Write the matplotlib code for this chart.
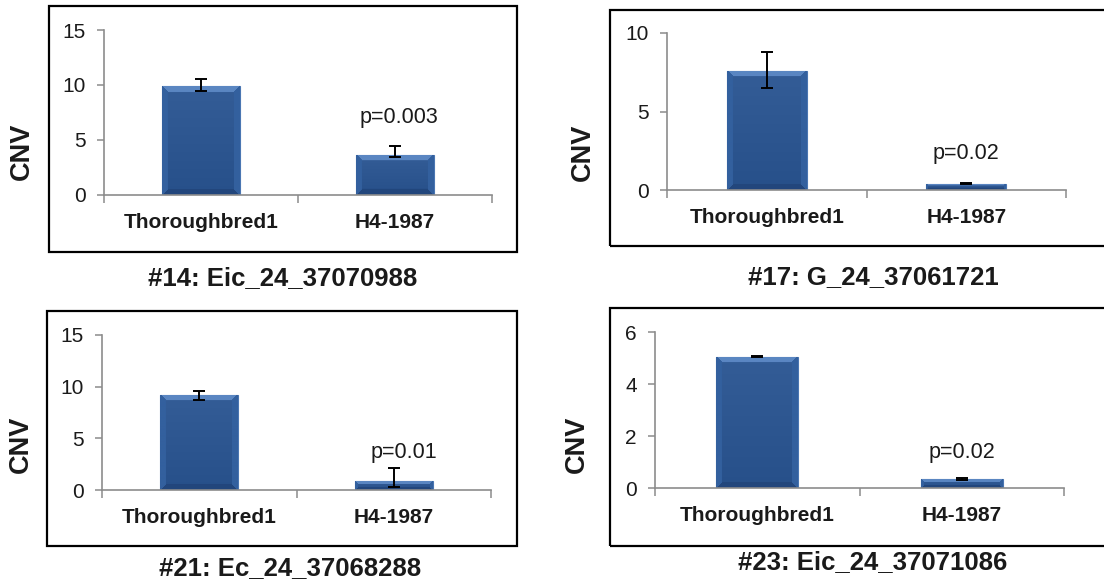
import numpy as np
import matplotlib
matplotlib.use("Agg")
import matplotlib.pyplot as plt
from matplotlib.patches import Rectangle
from matplotlib.colors import to_rgb

plt.rcParams['font.family'] = ['Liberation Sans', 'DejaVu Sans']

W, H = 1104, 585

categories = ["Thoroughbred1", "H4-1987"]

titles = ["#14: Eic_24_37070988", "#17: G_24_37061721",
          "#21: Ec_24_37068288", "#23: Eic_24_37071086"]

# mean CNV per breed and error bar extents (lower, upper)
cnv_14 = [9.9, 3.65]
err_lo_14 = [0.45, 0.2]
err_hi_14 = [0.6, 0.8]

cnv_17 = [7.6, 0.4]
err_lo_17 = [1.1, 0.04]
err_hi_17 = [1.2, 0.04]

cnv_21 = [9.2, 0.85]
err_lo_21 = [0.45, 0.55]
err_hi_21 = [0.4, 1.25]

cnv_23 = [5.05, 0.33]
err_lo_23 = [0.03, 0.03]
err_hi_23 = [0.03, 0.04]

p_labels = ["p=0.003", "p=0.02", "p=0.01", "p=0.02"]
p_heights = [7.0, 2.3, 3.6, 1.35]
p_offsets = [0.02, 0.0, 0.05, 0.0]

y_max = [15, 10, 15, 6]
y_step = [5, 5, 5, 2]

# layout in pixels: axis left, axis right, top of y range, zero line
axes_px = [(104, 492, 30, 195), (667, 1066, 33, 190),
           (102, 491, 335, 490), (655, 1064, 332, 488)]
frames_px = [(49, 6, 517, 252), (610, 10, 1112, 246),
             (47, 311, 517, 546), (610, 308, 1112, 546)]
ylabel_px = [(22, 151), (583, 152), (21, 444), (577, 444)]
title_px = [(283, 278), (873, 277), (290, 568), (873, 562)]

BAR_CENTER = np.array(to_rgb("#27508A"))
BAR_TOP = np.array(to_rgb("#5A86C2"))
BAR_SIDE = np.array(to_rgb("#33609E"))
BAR_BOTTOM = np.array(to_rgb("#22467C"))
AXIS_GRAY = "#8C8C8C"


def bevel_image(nx, ny, b):
    i = np.arange(ny)[:, None] * np.ones((1, nx))
    j = np.ones((ny, 1)) * np.arange(nx)[None, :]
    d_top = i
    d_bot = ny - 1 - i
    d_side = np.minimum(j, nx - 1 - j)
    img = np.zeros((ny, nx, 3))
    img[:] = BAR_CENTER
    # soft vertical shading in the face
    shade = (1 - i / max(ny - 1, 1))[..., None] * 0.05
    img = np.clip(img + shade, 0, 1)
    side = (d_side < b) & (d_side <= d_top) & (d_side <= d_bot)
    top = (d_top < b) & (d_top < d_side)
    bot = (d_bot < b) & (d_bot < d_side) & ~top
    img[side] = BAR_SIDE
    img[bot] = BAR_BOTTOM
    img[top] = BAR_TOP
    return img


def beveled_bars(ax, x, heights, width, px_per_unit_x, px_per_unit_y):
    bars = ax.bar(x, heights, width=width, color=BAR_CENTER, zorder=2,
                  edgecolor="#4A76B2", linewidth=0.8)
    for rect, h in zip(bars, heights):
        nx = max(int(round(width * px_per_unit_x)), 2)
        ny = max(int(round(h * px_per_unit_y)), 2)
        b = max(1, min(6, ny // 3))
        img = bevel_image(nx, ny, b)
        x0 = rect.get_x()
        im = ax.imshow(img, extent=[x0, x0 + width, 0, h], aspect="auto",
                       interpolation="bilinear", zorder=2.5)
        im.set_clip_path(rect)
    return bars


fig = plt.figure(figsize=(W / 100, H / 100), dpi=100)

panels = [
    (cnv_14, err_lo_14, err_hi_14),
    (cnv_17, err_lo_17, err_hi_17),
    (cnv_21, err_lo_21, err_hi_21),
    (cnv_23, err_lo_23, err_hi_23),
]

x = np.arange(len(categories))
bar_width = 0.4

for k, (vals, lo, hi) in enumerate(panels):
    fx0, fy0, fx1, fy1 = frames_px[k]
    fig.add_artist(Rectangle((fx0 / W, 1 - fy1 / H), (fx1 - fx0) / W,
                             (fy1 - fy0) / H, transform=fig.transFigure,
                             fill=False, edgecolor="black", linewidth=1.6,
                             zorder=0))

    left, right, top, zero = axes_px[k]
    ax = fig.add_axes([left / W, 1 - zero / H, (right - left) / W,
                       (zero - top) / H])
    ax.set_facecolor("none")
    ax.set_xlim(-0.5, len(categories) - 0.5)
    ax.set_ylim(0, y_max[k])

    ppx = (right - left) / len(categories)
    ppy = (zero - top) / y_max[k]
    beveled_bars(ax, x, vals, bar_width, ppx, ppy)
    ax.set_xlim(-0.5, len(categories) - 0.5)
    ax.set_ylim(0, y_max[k])

    ax.errorbar(x, vals, yerr=[lo, hi], fmt="none", ecolor="black",
                elinewidth=1.4, capsize=4.5, capthick=1.4, zorder=4)

    ax.text(1 + p_offsets[k], p_heights[k], p_labels[k], ha="center",
            va="center", fontsize=15.5, color="#1a1a1a")

    for side in ("top", "right"):
        ax.spines[side].set_visible(False)
    for side in ("left", "bottom"):
        ax.spines[side].set_color(AXIS_GRAY)
        ax.spines[side].set_linewidth(1.2)

    ax.set_yticks(np.arange(0, y_max[k] + 0.01, y_step[k]))
    ax.tick_params(axis="y", direction="out", length=5, width=1.1,
                   color=AXIS_GRAY, labelsize=15, pad=8, labelcolor="#1a1a1a")
    ax.set_xticks(x)
    ax.set_xticklabels(categories, fontsize=15, fontweight="bold",
                       color="#1a1a1a")
    ax.tick_params(axis="x", which="major", length=0, pad=13)
    ax.set_xticks(np.arange(-0.5, len(categories)), minor=True)
    ax.tick_params(axis="x", which="minor", direction="out", length=6,
                   width=1.1, color=AXIS_GRAY)

    lx, ly = ylabel_px[k]
    fig.text(lx / W, 1 - ly / H, "CNV", rotation=90, ha="center",
             va="center", fontsize=19.5, fontweight="bold", color="#1a1a1a")
    tx, ty = title_px[k]
    fig.text(tx / W, 1 - ty / H, titles[k], ha="center", va="center",
             fontsize=18.5, fontweight="bold", color="#1a1a1a")

fig.savefig("out.png", dpi=100)
